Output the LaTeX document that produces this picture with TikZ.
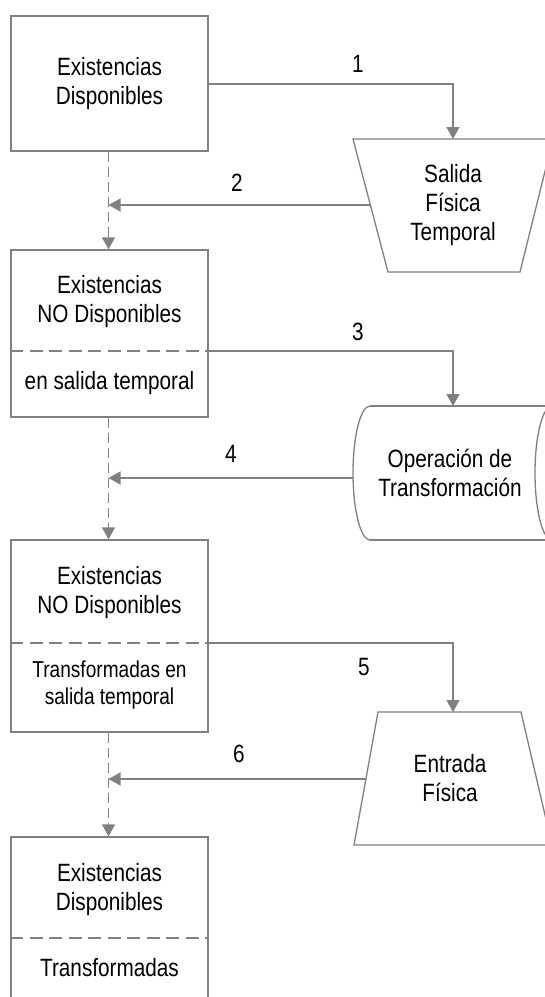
\documentclass[tikz,border=0pt]{standalone}
\usepackage{fontspec}
\setmainfont{Liberation Sans}[FakeStretch=0.83]
\usetikzlibrary{arrows.meta}
\definecolor{lc}{RGB}{128,128,128}
\begin{document}
\begin{tikzpicture}[x=1pt,y=-1pt,
  lin/.style={draw=lc, line width=1.3pt},
  box/.style={lin, rectangle, inner sep=0pt, minimum width=197pt},
  arr/.style={lin, color=lc, -{Triangle[length=12pt,width=13pt]}},
  vdash/.style={arr, line width=1.5pt, dash pattern=on 10pt off 5pt},
  sepl/.style={lin, dash pattern=on 13pt off 6.5pt},
  txt/.style={align=center, inner sep=0pt, text=black, font=\fontsize{25}{29}\selectfont},
  stxt/.style={align=center, inner sep=0pt, text=black, font=\fontsize{23}{27}\selectfont},
  num/.style={inner sep=0pt, text=black, font=\fontsize{25}{29}\selectfont}]
\useasboundingbox (0,0) rectangle (545,997);
\clip (0,0) rectangle (545,997);
\fill[white] (0,0) rectangle (545,997);

% boxes
\node[box, minimum height=135pt] (b1) at (109.5,83.5) {};
\node[box, minimum height=167pt] (b2) at (109.5,333.5) {};
\node[box, minimum height=192pt] (b3) at (109.5,636) {};
\node[box, minimum height=203pt] (b4) at (109.5,938.5) {};

\coordinate (s2) at (109.5,351);
\coordinate (s3) at (109.5,643);
\coordinate (s4) at (109.5,938);
\draw[sepl] (s2 -| b2.west) -- (s2 -| b2.east);
\draw[sepl] (s3 -| b3.west) -- (s3 -| b3.east);
\draw[sepl] (s4 -| b4.west) -- (s4 -| b4.east);

\node[txt] (b1t) at (109.5,83.5) {Existencias\\Disponibles};
\node[txt] (b2t) at (109.5,302) {Existencias\\NO Disponibles};
\node[txt] (b2u) at (109.5,383) {en salida temporal};
\node[txt] (b3t) at (109.5,593) {Existencias\\NO Disponibles};
\node[stxt] (b3u) at (109.5,685) {Transformadas en\\salida temporal};
\node[txt] (b4t) at (109.5,890) {Existencias\\Disponibles};
\node[txt] (b4u) at (109.5,968) {Transformadas};

% Salida Fisica Temporal
\coordinate (sa1) at (353,139);
\coordinate (sa2) at (553,139);
\coordinate (sa3) at (520,272);
\coordinate (sa4) at (388,272);
\draw[lin] (sa1) -- (sa2) -- (sa3) -- (sa4) -- cycle;
\node[txt] (salida) at (453,205) {Salida\\Física\\Temporal};
\coordinate (saN) at (453,139);
\coordinate (saW) at (370.4,205);

% Operacion de Transformacion
\coordinate (op1) at (370,406);
\coordinate (op2) at (552,406);
\coordinate (op3) at (552,540);
\coordinate (op4) at (370,540);
\coordinate (opc) at (552,473);
\draw[lin] (op1) -- (op2);
\draw[lin] (op4) -- (op3);
\draw[lin] (op1) arc[start angle=90, end angle=270, x radius=17pt, y radius=67pt];
\draw[lin] (opc) ellipse[x radius=17pt, y radius=67pt];
\node[txt] (oper) at (450,472.5) {Operación de\\Transformación};
\coordinate (opN) at (453,406);
\coordinate (opW) at (353.2,478);

% Entrada Fisica
\coordinate (en1) at (378,712);
\coordinate (en2) at (521,712);
\coordinate (en3) at (552,845);
\coordinate (en4) at (354,845);
\draw[lin] (en1) -- (en2) -- (en3) -- (en4) -- cycle;
\node[txt] (entrada) at (450,778.5) {Entrada\\Física};
\coordinate (enN) at (453,712);
\coordinate (enW) at (366,779);

% x of the dashed flow line
\coordinate (dx) at (108.5,0);

% junctions on the dashed line
\coordinate (j1) at (108.5,205);
\coordinate (j2) at (108.5,478);
\coordinate (j3) at (108.5,779);

% connectors
\coordinate (b1E) at (208,84);
\draw[arr] (b1E) -- (b1E -| saN) -- (saN);
\draw[arr] (saW) -- (j1);
\draw[arr] (s2 -| b2.east) -- (s2 -| opN) -- (opN);
\draw[arr] (opW) -- (j2);
\draw[arr] (s3 -| b3.east) -- (s3 -| enN) -- (enN);
\draw[arr] (enW) -- (j3);

\draw[vdash] (b1.south -| dx) -- (b2.north -| dx);
\draw[vdash] (b2.south -| dx) -- (b3.north -| dx);
\draw[vdash] (b3.south -| dx) -- (b4.north -| dx);

% labels
\node[num] (l1) at (358,64) {1};
\node[num] (l2) at (237,183) {2};
\node[num] (l3) at (358,332) {3};
\node[num] (l4) at (231,454) {4};
\node[num] (l5) at (364,667) {5};
\node[num] (l6) at (239,754) {6};
\end{tikzpicture}
\end{document}
